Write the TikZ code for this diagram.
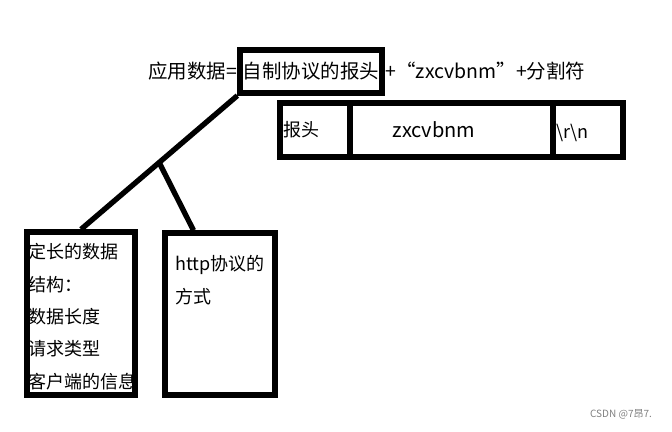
\documentclass[tikz,border=0pt]{standalone}
\usepackage{fontspec}
\setmainfont{Noto Sans CJK SC}
\usetikzlibrary{calc}

\tikzset{
  thickbox/.style={draw, line width=4pt, inner sep=0pt},
  branch/.style={line width=4pt},
  txt/.style={inner sep=0pt, anchor=west, font=\fontsize{13.5pt}{16pt}\selectfont},
  big/.style={font=\fontsize{14.6pt}{17pt}\selectfont},
}

\begin{document}
\begin{tikzpicture}[x=0.75pt,y=-0.75pt]
  \useasboundingbox (0,0) rectangle (672,432);
  % top formula
  \node[thickbox, big, minimum width=106.5pt, minimum height=32.25pt] (hdr) at (311,71.5) {自制协议的报头};
  \node[txt, big, anchor=east, inner sep=0pt] (lhs) at (hdr.west) {应用数据=};
  \node[txt, big, inner sep=0.5pt] (rhs) at (hdr.east) {+“zxcvbnm”+分割符};
  % packet layout
  \node[thickbox, minimum width=52.5pt, minimum height=40.5pt] (c1) at (315,130) {};
  \node[thickbox, minimum width=152.25pt, minimum height=40.5pt] (c2) at (451.5,130) {};
  \node[thickbox, minimum width=52.5pt, minimum height=40.5pt] (c3) at (588,130) {};
  \node[txt] (t1) at (283,130) {报头};
  \node[txt, anchor=center, font=\fontsize{15pt}{17pt}\selectfont] (t2) at (434,130) {zxcvbnm};
  \node[txt] (t3) at (556,133) {\textbackslash r\textbackslash n};
  % two ways
  \node[thickbox, minimum width=81pt, minimum height=122.25pt] (lbox) at (81,313.5) {};
  \node[thickbox, minimum width=82.5pt, minimum height=121.5pt] (rbox) at (220,314) {};
  \foreach \t [count=\i] in {定长的数据, 结构：, 数据长度, 请求类型, 客户端的信息}
    \node[txt] (l\i) at (28,{252+(\i-1)*32.3}) {\t};
  \node[txt] (r1) at (175,265) {http协议的};
  \node[txt] (r2) at (175,297) {方式};
  % tree
  \draw[branch] (hdr.south west) -- coordinate (fork) (lbox.north);
  \coordinate (rtop) at ($(rbox.north west)!0.27!(rbox.north east)$);
  \draw[branch] (fork) -- (rtop);
  % watermark
  \node[inner sep=0pt, text=gray, font=\fontsize{7.5pt}{9pt}\selectfont] (mark) at (621,414) {CSDN @7昂7.};
\end{tikzpicture}
\end{document}
